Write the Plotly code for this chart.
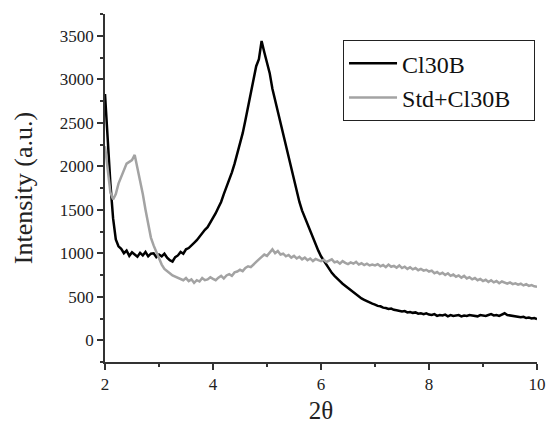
"""XRD patterns of Cl30B and Std+Cl30B."""

import plotly.graph_objects as go

BLACK = '#000000'
GRAY = '#a3a3a3'
AXIS = '#333333'
FONT = 'Times New Roman'
PAD = '\u00a0' * 3  # widens the legend box a little, as in the original

# 2-theta grid, 2.00 to 10.00 in steps of 0.05
TWO_THETA = [round(2 + 0.05 * i, 2) for i in range(161)]

CL30B = [
    2830, 2300, 1800, 1400, 1160, 1080, 1050, 1000, 1030, 970, 1010, 985, 960, 1005, 975, 1015, 965, 995, 1000, 955,
    985, 965, 995, 950, 920, 905, 955, 975, 1015, 995, 1045, 1060, 1085, 1120, 1150, 1195, 1230, 1270, 1300, 1350,
    1410, 1460, 1525, 1590, 1680, 1760, 1850, 1930, 2030, 2140, 2260, 2380, 2530, 2680, 2840, 3010, 3150, 3230, 3440, 3310,
    3200, 3070, 2890, 2760, 2620, 2480, 2350, 2220, 2080, 1960, 1830, 1700, 1590, 1490, 1410, 1340, 1270, 1190, 1110, 1030,
    965, 915, 860, 820, 775, 740, 705, 680, 650, 625, 600, 575, 550, 525, 505, 480, 465, 450, 430, 420,
    410, 395, 390, 375, 370, 360, 365, 350, 345, 340, 330, 335, 320, 325, 315, 320, 305, 310, 300, 310,
    295, 290, 300, 280, 290, 285, 295, 275, 290, 280, 285, 290, 275, 285, 280, 290, 285, 280, 275, 290,
    285, 280, 290, 300, 285, 290, 280, 295, 310, 290, 285, 280, 275, 270, 265, 270, 255, 260, 250, 255,
    245,
]

STD_CL30B = [
    2230, 1950, 1700, 1620, 1680, 1800, 1880, 1960, 2030, 2050, 2070, 2130, 1990, 1840, 1680, 1500, 1330, 1180, 1090, 1010,
    950, 870, 820, 790, 770, 745, 730, 720, 700, 690, 715, 680, 700, 660, 690, 675, 715, 690, 700, 725,
    705, 690, 720, 740, 710, 745, 760, 740, 780, 790, 810, 795, 830, 850, 840, 875, 900, 930, 955, 985,
    970, 1010, 1045, 1000, 1025, 985, 995, 965, 980, 950, 970, 940, 960, 930, 950, 920, 940, 910, 935, 920,
    910, 925, 900, 915, 930, 895, 905, 880, 910, 890, 875, 895, 880, 900, 870, 885, 865, 880, 860, 870,
    860, 875, 850, 865, 840, 870, 845, 855, 835, 860, 830, 845, 820, 840, 815, 830, 805, 820, 800, 810,
    790, 800, 770, 785, 760, 775, 750, 770, 740, 755, 730, 745, 720, 740, 710, 725, 700, 715, 690, 705,
    680, 695, 670, 690, 665, 680, 655, 675, 660, 650, 665, 645, 655, 640, 650, 630, 645, 625, 635, 620,
    615,
]

X_TICKS = [2, 4, 6, 8, 10]
Y_TICKS = [0, 500, 1000, 1500, 2000, 2500, 3000, 3500]

fig = go.Figure()
fig.add_trace(go.Scatter(x=TWO_THETA, y=CL30B, mode='lines', name='Cl30B',
                         line=dict(color=BLACK, width=2.5)))
fig.add_trace(go.Scatter(x=TWO_THETA, y=STD_CL30B, mode='lines', name='Std+Cl30B' + PAD,
                         line=dict(color=GRAY, width=2.5)))

axis_common = dict(
    showline=True, linecolor=AXIS, linewidth=1.5, mirror=False,
    showgrid=False, zeroline=False, automargin=False,
    ticks='outside', ticklen=6, tickwidth=1.5, tickcolor=AXIS,
    tickfont=dict(family=FONT, size=17, color='#222222'),
)

fig.update_layout(
    width=555, height=424,
    margin=dict(l=105, r=18, t=14, b=62),
    paper_bgcolor='white', plot_bgcolor='white',
    font=dict(family=FONT, color='#222222'),
    xaxis=dict(
        range=[2, 10], tickvals=X_TICKS,
        minor=dict(dtick=1, ticks='outside', ticklen=3, tickwidth=1.5, tickcolor=AXIS),
        title=dict(text='2θ', font=dict(family=FONT, size=25), standoff=12),
        **axis_common,
    ),
    yaxis=dict(
        range=[-250, 3750], tickvals=Y_TICKS,
        minor=dict(dtick=250, ticks='outside', ticklen=3, tickwidth=1.5, tickcolor=AXIS),
        title=dict(text='Intensity (a.u.)', font=dict(family=FONT, size=26), standoff=20),
        **axis_common,
    ),
    legend=dict(
        x=0.551, y=0.925, xanchor='left', yanchor='top',
        bgcolor='white', bordercolor='#222222', borderwidth=1,
        font=dict(family=FONT, size=24, color='#111111'),
        itemwidth=48, tracegroupgap=0,
    ),
)

# drop the default body margin so the figure sits at the window's corner
fig.write_html('out.html', config={'displayModeBar': False},
               post_script="document.body.style.margin = '0';")
